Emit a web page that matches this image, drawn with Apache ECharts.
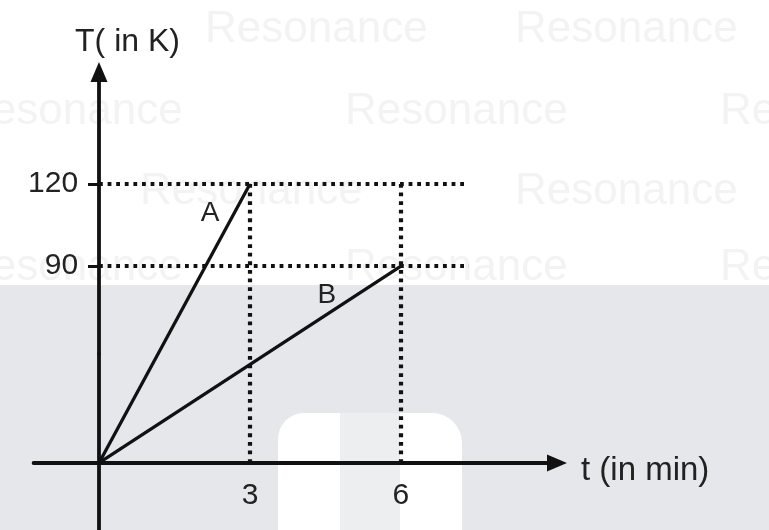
<!DOCTYPE html>
<html>
<head>
<meta charset="utf-8">
<script src="https://cdn.jsdelivr.net/npm/echarts@6/dist/echarts.min.js"></script>
<style>
  html, body { margin: 0; padding: 0; background: #ffffff; }
  #chart { width: 769px; height: 530px; }
</style>
</head>
<body>
<div id="chart"></div>
<script>
// Temperature of two bodies A and B plotted against heating time.
const timeTicks = [3, 6];            // t (in min)
const tempTicks = [90, 120];         // T (in K)
const curveA = [[0, 0], [3, 120]];
const curveB = [[0, 0], [6, 90]];
const curveNames = ['A', 'B'];

// Dotted read-off lines: [t, T] pairs for each segment
const guideSegments = [
  [[0, 120], [7.3, 120]],
  [[0, 90], [7.35, 90]],
  [[3, 0], [3, 120]],
  [[6, 0], [6, 120]]
];

const INK = '#111111';
const FONT = 'Liberation Sans, Arial, sans-serif';

const chart = echarts.init(document.getElementById('chart'), null, { renderer: 'canvas' });

// Label offsets for the curve names (pixels from each curve's end point)
const nameOffsets = [[-40, 29], [-74, 29]];

function curveData(points, idx) {
  return points.map((p, i) => {
    if (i !== points.length - 1) return p;
    return {
      value: p,
      label: {
        show: true,
        formatter: curveNames[idx],
        position: 'inside',
        offset: nameOffsets[idx],
        fontSize: 28,
        color: '#222',
        fontFamily: FONT
      }
    };
  });
}

// Faint background watermark words
const wmSpots = [
  [205, 30], [515, 30],
  [-40, 112], [345, 112], [720, 112],
  [140, 192], [515, 192],
  [-40, 268], [345, 268], [720, 268]
];
const watermark = wmSpots.map(([x, y]) => ({
  type: 'text',
  x: x, y: y,
  z: -5,
  style: {
    text: 'Resonance',
    font: '44px ' + FONT,
    fill: '#f3f3f3',
    verticalAlign: 'middle'
  },
  silent: true
}));

const option = {
  animation: false,
  backgroundColor: '#ffffff',
  graphic: [
    { type: 'rect', z: -10, shape: { x: 0, y: 285, width: 769, height: 250 }, style: { fill: '#e5e7ea' }, silent: true },
    { type: 'rect', z: -9, shape: { x: 340, y: 413, width: 60, height: 120 }, style: { fill: '#eceef0' }, silent: true },
    { type: 'rect', z: -8, shape: { x: 278, y: 413, width: 62, height: 120, r: [26, 0, 0, 0] }, style: { fill: '#ffffff' }, silent: true },
    { type: 'rect', z: -8, shape: { x: 400, y: 413, width: 62, height: 120, r: [0, 30, 0, 0] }, style: { fill: '#ffffff' }, silent: true }
  ].concat(watermark),
  grid: {
    left: 33.57,
    top: 71.9,
    width: 523.4,
    height: 464.9,
    containLabel: false,
    outerBoundsMode: 'none'
  },
  xAxis: {
    type: 'value',
    min: -1.3,
    max: 9.1,
    name: 't (in min)',
    nameLocation: 'end',
    nameGap: 24,
    nameTextStyle: { fontSize: 33, color: '#222', fontFamily: FONT, verticalAlign: 'top', lineHeight: 16 },
    axisLine: {
      onZero: true,
      symbol: ['none', 'triangle'],
      symbolSize: [17, 20],
      lineStyle: { color: INK, width: 3.8 }
    },
    axisTick: { show: false },
    axisLabel: {
      customValues: timeTicks,
      fontSize: 30,
      color: '#222',
      fontFamily: FONT,
      // labels are placed from the grid's lower edge; pull them up to the zero line
      margin: -56
    },
    splitLine: { show: false }
  },
  yAxis: {
    type: 'value',
    min: -27,
    max: 161,
    breaks: [{ start: 40, end: 58, gap: 0 }],
    breakArea: { show: false },
    name: 'T( in K)',
    nameLocation: 'end',
    nameGap: 14,
    nameTextStyle: { fontSize: 32, color: '#222', fontFamily: FONT, align: 'center', padding: [0, 0, 0, 57] },
    axisLine: {
      onZero: true,
      symbol: ['none', 'triangle'],
      symbolSize: [17, 20],
      lineStyle: { color: INK, width: 3.8 }
    },
    axisTick: {
      show: true,
      customValues: tempTicks,
      length: 11,
      lineStyle: { color: INK, width: 3 }
    },
    axisLabel: {
      customValues: tempTicks,
      fontSize: 30,
      color: '#222',
      fontFamily: FONT,
      // labels are placed from the grid's left edge; push them right to the zero line
      margin: -44.5
    },
    splitLine: { show: false }
  },
  series: [
    {
      name: 'guides',
      type: 'line',
      data: [],
      silent: true,
      markLine: {
        silent: true,
        symbol: ['none', 'none'],
        label: { show: false },
        lineStyle: { color: INK, width: 4.2, type: [3.8, 4.8], cap: 'butt' },
        emphasis: { disabled: true },
        data: guideSegments.map(seg => [{ coord: seg[0] }, { coord: seg[1] }])
      }
    },
    {
      name: curveNames[0],
      type: 'line',
      data: curveData(curveA, 0),
      showSymbol: true,
      symbol: 'circle',
      symbolSize: 1,
      itemStyle: { color: INK },
      lineStyle: { color: INK, width: 3.3 },
      z: 5
    },
    {
      name: curveNames[1],
      type: 'line',
      data: curveData(curveB, 1),
      showSymbol: true,
      symbol: 'circle',
      symbolSize: 1,
      itemStyle: { color: INK },
      lineStyle: { color: INK, width: 3.3 },
      z: 5
    }
  ]
};

chart.setOption(option);
</script>
</body>
</html>
